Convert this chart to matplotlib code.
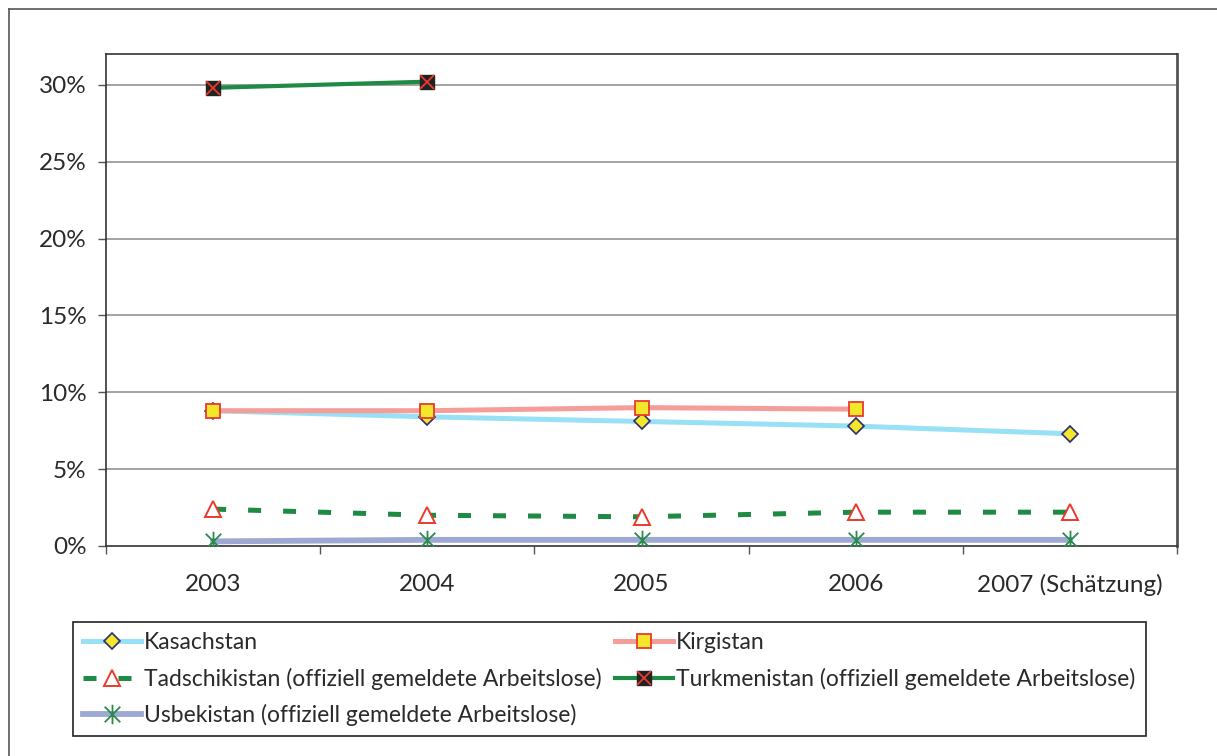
import matplotlib
matplotlib.use("Agg")
import matplotlib.pyplot as plt
from matplotlib.lines import Line2D
from matplotlib.legend_handler import HandlerTuple
from matplotlib.path import Path
import numpy as np

plt.rcParams['font.family'] = ['Lato', 'DejaVu Sans']

years = ["2003", "2004", "2005", "2006", "2007 (Schätzung)"]
kasachstan = [8.8, 8.4, 8.1, 7.8, 7.3]
kirgistan = [8.8, 8.8, 9.0, 8.9, None]
tadschikistan = [2.4, 2.0, 1.9, 2.2, 2.2]
turkmenistan = [29.8, 30.2, None, None, None]
usbekistan = [0.3, 0.4, 0.4, 0.4, 0.4]
yticks = [0, 5, 10, 15, 20, 25, 30]

W, H = 1217, 756
fig = plt.figure(figsize=(W / 100, H / 100), dpi=100)
ax = fig.add_axes([106 / W, 1 - 546 / H, (1177 - 106) / W, (546 - 54) / H])

x = np.arange(len(years))


def arr(v):
    return np.array([np.nan if a is None else a for a in v], dtype=float)


text_col = "#2a2a2a"
green = "#1f8a43"

# star marker: vertical stroke plus two diagonals
star = Path([(0, -1), (0, 1), (-0.8, -0.8), (0.8, 0.8), (-0.8, 0.8), (0.8, -0.8)],
            [Path.MOVETO, Path.LINETO] * 3)

# grid
for t in yticks[1:]:
    ax.axhline(t, color="#8a8a8a", lw=1.1, zorder=1)

l_kas, = ax.plot(x, arr(kasachstan), color="#98e0f5", lw=3.6, marker="D",
                 ms=8.5, mfc="#f2e72a", mec="#2d2a72", mew=1.2, zorder=3)
l_kir, = ax.plot(x, arr(kirgistan), color="#f59d98", lw=3.6, marker="s",
                 ms=10.5, mfc="#f2e72a", mec="#ea3a2e", mew=1.3, zorder=4)
l_tad, = ax.plot(x, arr(tadschikistan), color=green, lw=3.6,
                 linestyle=(0, (2.6, 4.4)), marker="^", ms=11, mfc="white",
                 mec="#ea3a2e", mew=1.4, zorder=3)
l_tur, = ax.plot(x, arr(turkmenistan), color=green, lw=3.0, marker="s",
                 ms=10.5, mfc="#222222", mec="#222222", zorder=3)
l_turx, = ax.plot(x, arr(turkmenistan), lw=0, marker="x", ms=10,
                  mec="#ea3a2e", mew=1.3, zorder=4)
l_usb, = ax.plot(x, arr(usbekistan), color="#9ea9d3", lw=4.2, zorder=3)
l_usbm, = ax.plot(x, arr(usbekistan), lw=0, marker=star, ms=14,
                  mec="#2a8a4a", mew=1.3, zorder=4)

ax.set_xlim(-0.5, len(years) - 0.5)
ax.set_ylim(0, 32)
ax.set_yticks(yticks)
ax.set_yticklabels([f"{t}%" for t in yticks])
ax.set_xticks(x)
ax.set_xticklabels(years)
ax.set_xticks(np.arange(-0.5, len(years), 1.0), minor=True)

ax.tick_params(axis="y", length=6, width=1, color="#555555", pad=8,
               labelsize=17.5, labelcolor=text_col)
ax.tick_params(axis="x", which="major", length=0, pad=20, labelsize=17.5,
               labelcolor=text_col)
ax.tick_params(axis="x", which="minor", length=6, width=1, color="#555555",
               direction="out")

for side in ["left", "bottom", "top"]:
    ax.spines[side].set_color("#333333")
    ax.spines[side].set_linewidth(1.2)
ax.spines["right"].set_color("#555555")
ax.spines["right"].set_linewidth(2.0)

# outer chart frame
fig.add_artist(Line2D([9 / W, 9 / W], [0, 1 - 9 / H], color="#555555",
                      lw=1.2, transform=fig.transFigure))
fig.add_artist(Line2D([9 / W, 1], [1 - 9 / H, 1 - 9 / H], color="#555555",
                      lw=1.2, transform=fig.transFigure))

handles = [l_kas, l_tad, (l_usb, l_usbm), l_kir, (l_tur, l_turx)]
labels = ["Kasachstan",
          "Tadschikistan (offiziell gemeldete Arbeitslose)",
          "Usbekistan (offiziell gemeldete Arbeitslose)",
          "Kirgistan",
          "Turkmenistan (offiziell gemeldete Arbeitslose)"]
leg = fig.legend(handles, labels, ncol=2, loc="upper left",
                 bbox_to_anchor=(73 / W, 1 - 622 / H),
                 bbox_transform=fig.transFigure, fontsize=16.5,
                 frameon=True, fancybox=False, edgecolor="#222222",
                 framealpha=1, handlelength=2.5, handletextpad=0.15,
                 columnspacing=0.6, labelspacing=0.62, borderpad=0.45,
                 borderaxespad=0,
                 handler_map={tuple: HandlerTuple(ndivide=1)})
leg.get_frame().set_linewidth(1.2)
for t in leg.get_texts():
    t.set_color(text_col)

fig.savefig("out.png", dpi=100)
